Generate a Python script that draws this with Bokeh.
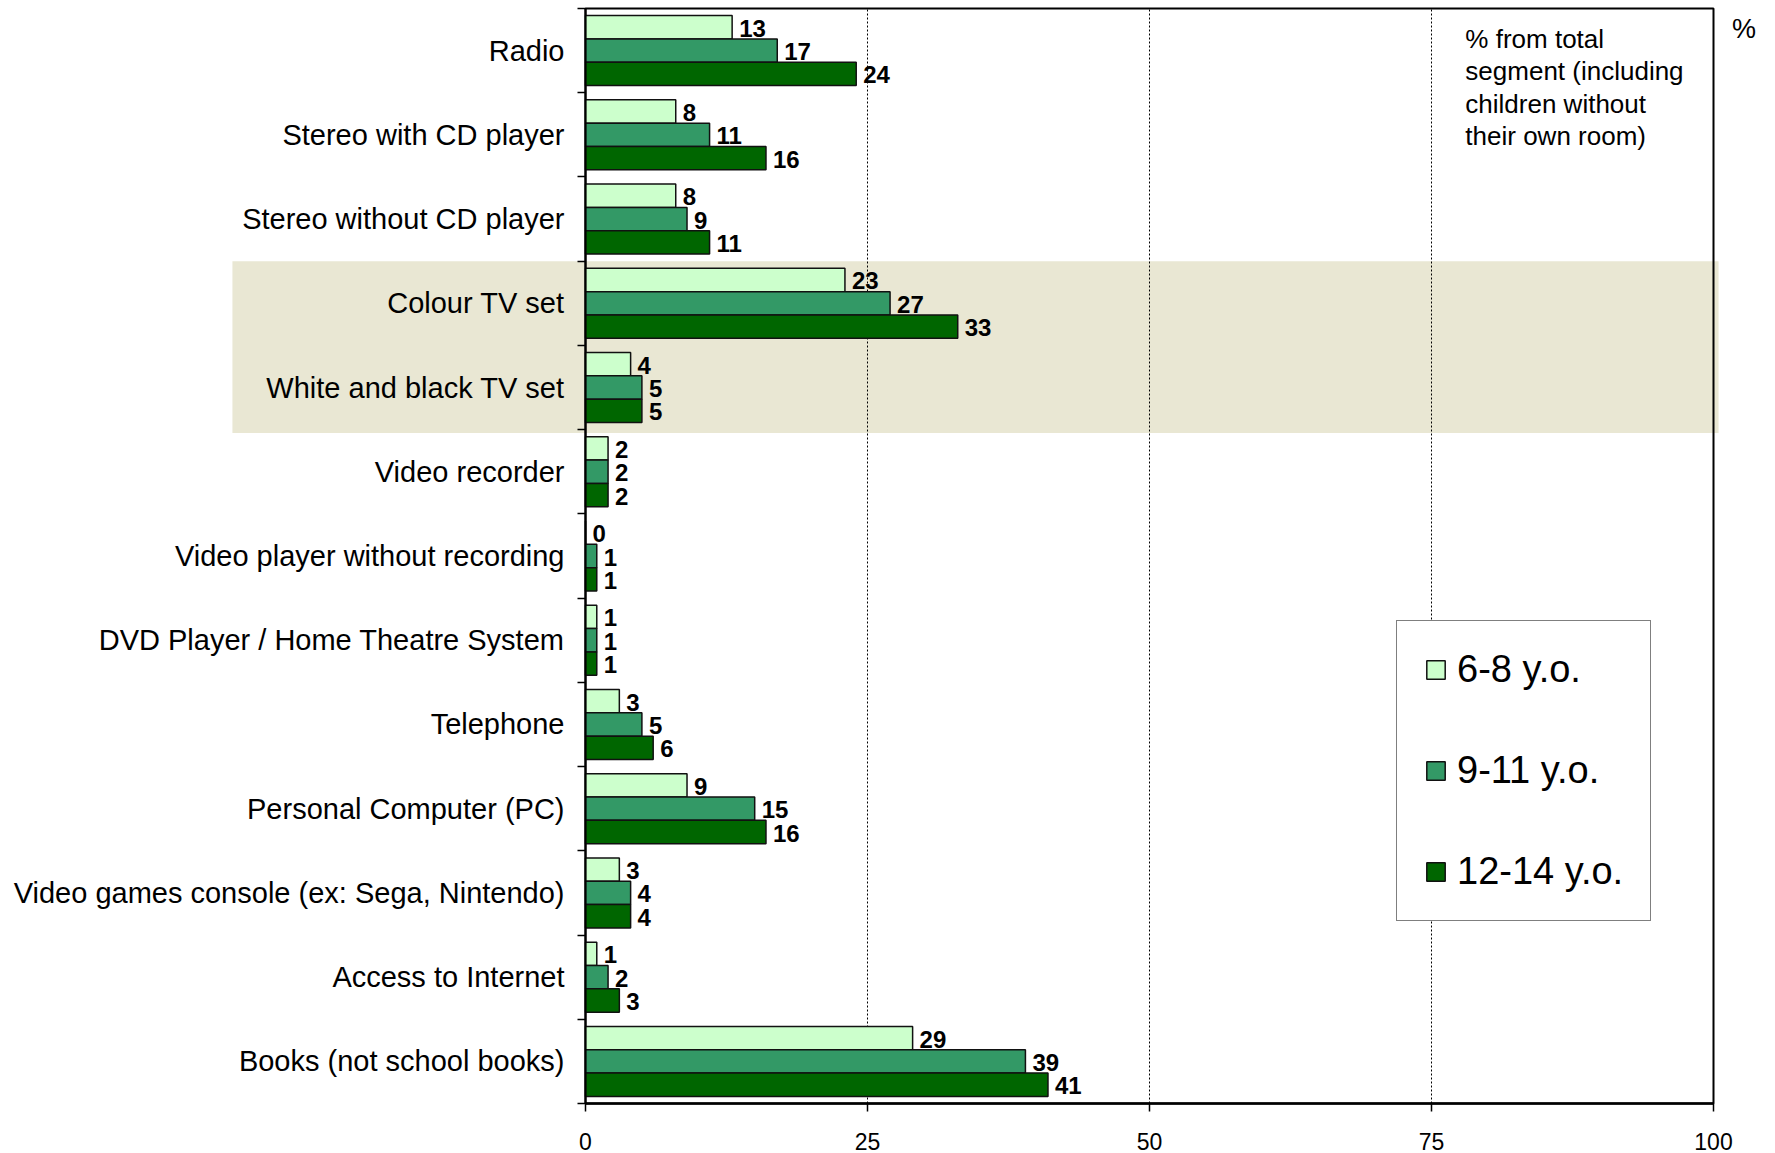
from bokeh.plotting import figure
from bokeh.models import (Range1d, FixedTicker, BoxAnnotation, Label, LinearAxis,
                          ColumnDataSource)
from bokeh.core.properties import value
from bokeh.embed import file_html
from bokeh.resources import INLINE

# Equipment found in the child's own room, by age group (%)
categories = [
    "Radio",
    "Stereo with CD player",
    "Stereo without CD player",
    "Colour TV set",
    "White and black TV set",
    "Video recorder",
    "Video player without recording",
    "DVD Player / Home Theatre System",
    "Telephone",
    "Personal Computer (PC)",
    "Video games console (ex: Sega, Nintendo)",
    "Access to Internet",
    "Books (not school books)",
]
age_6_8 = [13, 8, 8, 23, 4, 2, 0, 1, 3, 9, 3, 1, 29]
age_9_11 = [17, 11, 9, 27, 5, 2, 1, 1, 5, 15, 4, 2, 39]
age_12_14 = [24, 16, 11, 33, 5, 2, 1, 1, 6, 16, 4, 3, 41]
series_names = ["6-8 y.o.", "9-11 y.o.", "12-14 y.o."]
series_colors = ["#CCFFCC", "#339966", "#006600"]
x_ticks = [0, 25, 50, 75, 100]
highlighted = ["Colour TV set", "White and black TV set"]

FONT = "Liberation Sans"
W, H = 1775, 1153
# plot box inside the canvas (pixels)
BOX_L, BOX_R, BOX_T, BOX_B = 585, 1713, 8, 1103

n = len(categories)
centers = [n - i - 0.5 for i in range(n)]
bar_h = 0.277
offsets = [bar_h, 0.0, -bar_h]

# the frame fills the whole canvas so labels, band and notes can sit anywhere;
# the value axes are pinned at x=0 / y=0 with fixed_location
xu = (BOX_R - BOX_L) / 100.0
yu = (BOX_B - BOX_T) / n
x_range = Range1d(-BOX_L / xu, (W - BOX_L) / xu)
y_range = Range1d(-(H - BOX_B) / yu, n + BOX_T / yu)

p = figure(width=W, height=H, output_backend="svg", toolbar_location=None,
           x_range=x_range, y_range=y_range, x_axis_type=None, y_axis_type=None,
           min_border=0)
p.background_fill_color = "white"
p.border_fill_color = "white"
p.outline_line_color = None

# shaded band behind the TV rows, reaching under their labels
hi_idx = [categories.index(c) for c in highlighted]
band = BoxAnnotation(left=-31.3, right=100.45,
                     bottom=n - max(hi_idx) - 1 - 0.04, top=n - min(hi_idx),
                     fill_color="#E9E7D3", fill_alpha=1.0, line_color=None,
                     level="underlay")
p.add_layout(band)

# dotted reference lines at the inner ticks
inner = x_ticks[1:-1]
p.segment(x0=inner, y0=[0] * len(inner), x1=inner, y1=[n] * len(inner),
          line_color="black", line_width=1, line_dash="2 2")

# plot box
p.quad(left=[0], right=[100], bottom=[0], top=[n], fill_color=None,
       line_color="black", line_width=2)

for vals, name, color, off in zip([age_6_8, age_9_11, age_12_14], series_names,
                                  series_colors, offsets):
    ys = [c + off for c in centers]
    src = ColumnDataSource(dict(y=ys, v=vals, t=[str(v) for v in vals]))
    p.hbar(y="y", left=0, right="v", height=bar_h, source=src,
           fill_color=color, line_color="#111111", line_width=1.5,
           legend_label=name)
    p.text(x="v", y="y", text="t", source=src, x_offset=7, y_offset=1,
           text_font=value(FONT), text_font_style="bold",
           text_font_size="24px", text_baseline="middle", text_align="left",
           text_color="black")

# axes
xa = LinearAxis(fixed_location=0, bounds=(0, 100))
xa.ticker = FixedTicker(ticks=x_ticks)
xa.major_tick_out = 8
xa.major_tick_in = 0
xa.minor_tick_out = 0
xa.minor_tick_in = 0
xa.axis_line_width = 2.5
xa.axis_line_color = "black"
xa.major_tick_line_color = "black"
xa.major_tick_line_width = 1.5
xa.major_label_text_font = FONT
xa.major_label_text_font_size = "23px"
xa.major_label_text_color = "black"
xa.major_label_standoff = 21
p.add_layout(xa, "below")

ya = LinearAxis(fixed_location=0, bounds=(0, n))
ya.ticker = FixedTicker(ticks=centers, minor_ticks=list(range(n + 1)))
ya.major_label_overrides = {c: lab for c, lab in zip(centers, categories)}
ya.major_tick_out = 0
ya.major_tick_in = 0
ya.minor_tick_out = 8
ya.minor_tick_in = 0
ya.minor_tick_line_color = "black"
ya.minor_tick_line_width = 1.5
ya.axis_line_width = 2
ya.axis_line_color = "black"
ya.major_label_text_font = FONT
ya.major_label_text_font_size = "29px"
ya.major_label_text_color = "black"
ya.major_label_standoff = 13
p.add_layout(ya, "left")

# unit marker and note
p.add_layout(Label(x=101.65, y=n - 0.06, text="%", text_font=FONT,
                   text_font_size="27px", text_baseline="top", text_color="black"))
note = ["% from total", "segment (including", "children without", "their own room)"]
for k, line in enumerate(note):
    p.add_layout(Label(x=78.0, y=n - 0.18 - k * 0.386, text=line, text_font=FONT,
                       text_font_size="26px", text_baseline="top",
                       text_color="black"))

lg = p.legend[0]
lg.location = (1396, H - 921)
lg.border_line_color = "black"
lg.border_line_width = 1.5
lg.background_fill_color = "white"
lg.background_fill_alpha = 1.0
lg.padding = 27
lg.spacing = 58
lg.glyph_width = 23
lg.glyph_height = 23
lg.label_height = 23
lg.label_standoff = 10
lg.label_text_font = FONT
lg.label_text_font_size = "38px"
lg.label_text_color = "black"
lg.margin = 0

open("out.html", "w").write(file_html(p, INLINE))
